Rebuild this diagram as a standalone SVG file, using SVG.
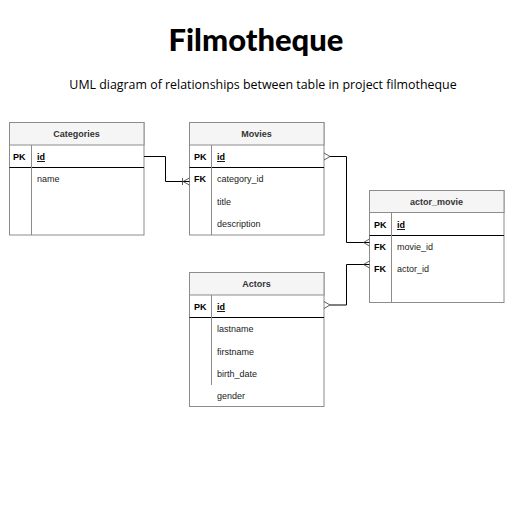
<svg xmlns="http://www.w3.org/2000/svg" width="512" height="512" viewBox="0 0 512 512">
<style>
.box{fill:#ffffff;stroke:#8c8c8c;stroke-width:1}
.hdr{fill:#f5f5f5;stroke:#8c8c8c;stroke-width:1}
.sep{stroke:#000000;stroke-width:1}
.div{stroke:#8c8c8c;stroke-width:1}
.ht{font-family:"Liberation Sans",Arial,sans-serif;font-size:9px;font-weight:bold;fill:#333333;text-anchor:middle}
.k{font-family:"Liberation Sans",Arial,sans-serif;font-size:9px;font-weight:bold;fill:#000000}
.f{font-family:"Liberation Sans",Arial,sans-serif;font-size:9px;fill:#1a1a1a}
.pk{font-family:"Liberation Sans",Arial,sans-serif;font-size:9px;font-weight:bold;fill:#000000;text-decoration:underline}
.c{fill:none;stroke:#000000;stroke-width:1}
.m{fill:none;stroke:#333333;stroke-width:0.8}
</style>
<rect width="512" height="512" fill="#ffffff"/>
<text x="256" y="51" font-family="Lato, 'Open Sans', sans-serif" font-weight="900" font-size="31" text-anchor="middle" fill="#000000">Filmotheque</text>
<text x="263" y="89" font-family="'Open Sans', sans-serif" font-size="12.4" text-anchor="middle" fill="#000000">UML diagram of relationships between table in project filmotheque</text>

<g id="categories">
<rect class="box" x="9.5" y="122.5" width="134.5" height="112.5"/>
<rect class="hdr" x="9.5" y="122.5" width="134.5" height="22.5"/>
<line class="sep" x1="9.5" y1="167.5" x2="144" y2="167.5"/>
<line class="div" x1="31.5" y1="145" x2="31.5" y2="235"/>
<text class="ht" x="76.5" y="137">Categories</text>
<text class="k" x="13" y="160">PK</text>
<text class="pk" x="37" y="160">id</text>
<text class="f" x="37" y="182">name</text>
</g>

<g id="movies">
<rect class="box" x="189.5" y="122.5" width="134.5" height="112.5"/>
<rect class="hdr" x="189.5" y="122.5" width="134.5" height="22.5"/>
<line class="sep" x1="189.5" y1="167.5" x2="324" y2="167.5"/>
<line class="div" x1="211.5" y1="145" x2="211.5" y2="235"/>
<text class="ht" x="256.5" y="137">Movies</text>
<text class="k" x="194" y="160">PK</text>
<text class="pk" x="217" y="160">id</text>
<text class="k" x="194" y="182">FK</text>
<text class="f" x="217" y="182">category_id</text>
<text class="f" x="217" y="204.5">title</text>
<text class="f" x="217" y="227">description</text>
</g>

<g id="actor_movie">
<rect class="box" x="369.5" y="190.5" width="134.5" height="112"/>
<rect class="hdr" x="369.5" y="190.5" width="134.5" height="22"/>
<line class="sep" x1="369.5" y1="235.5" x2="504" y2="235.5"/>
<line class="div" x1="391.5" y1="212.5" x2="391.5" y2="302.5"/>
<text class="ht" x="436.5" y="205">actor_movie</text>
<text class="k" x="374" y="228">PK</text>
<text class="pk" x="397" y="228">id</text>
<text class="k" x="374" y="250">FK</text>
<text class="f" x="397" y="250">movie_id</text>
<text class="k" x="374" y="271.5">FK</text>
<text class="f" x="397" y="271.5">actor_id</text>
</g>

<g id="actors">
<rect class="box" x="189.5" y="272.5" width="134.5" height="134"/>
<rect class="hdr" x="189.5" y="272.5" width="134.5" height="22.5"/>
<line class="sep" x1="189.5" y1="317.5" x2="324" y2="317.5"/>
<line class="div" x1="211.5" y1="295" x2="211.5" y2="385"/>
<text class="ht" x="256.5" y="287">Actors</text>
<text class="k" x="194" y="310">PK</text>
<text class="pk" x="217" y="310">id</text>
<text class="f" x="217" y="332">lastname</text>
<text class="f" x="217" y="354.5">firstname</text>
<text class="f" x="217" y="376.5">birth_date</text>
<text class="f" x="217" y="399">gender</text>
</g>

<g id="connectors">
<path class="c" d="M144 156.5 H165.5 V181.5 H189.5"/>
<path class="m" d="M182.5 178 V185 M183 181.5 L189.5 178 M183 181.5 L189.5 185"/>
<path class="c" d="M330 156.5 H346.5 V242.5 H369.5"/>
<path class="m" d="M324 153 L330 156.5 L324 160"/>
<path class="m" d="M369.5 239 L363.5 242.5 L369.5 246"/>
<path class="c" d="M330 305 H346.5 V264.5 H369.5"/>
<path class="m" d="M324 301.5 L330 305 L324 308.5"/>
<path class="m" d="M369.5 261 L363.5 264.5 L369.5 268"/>
</g>
</svg>
